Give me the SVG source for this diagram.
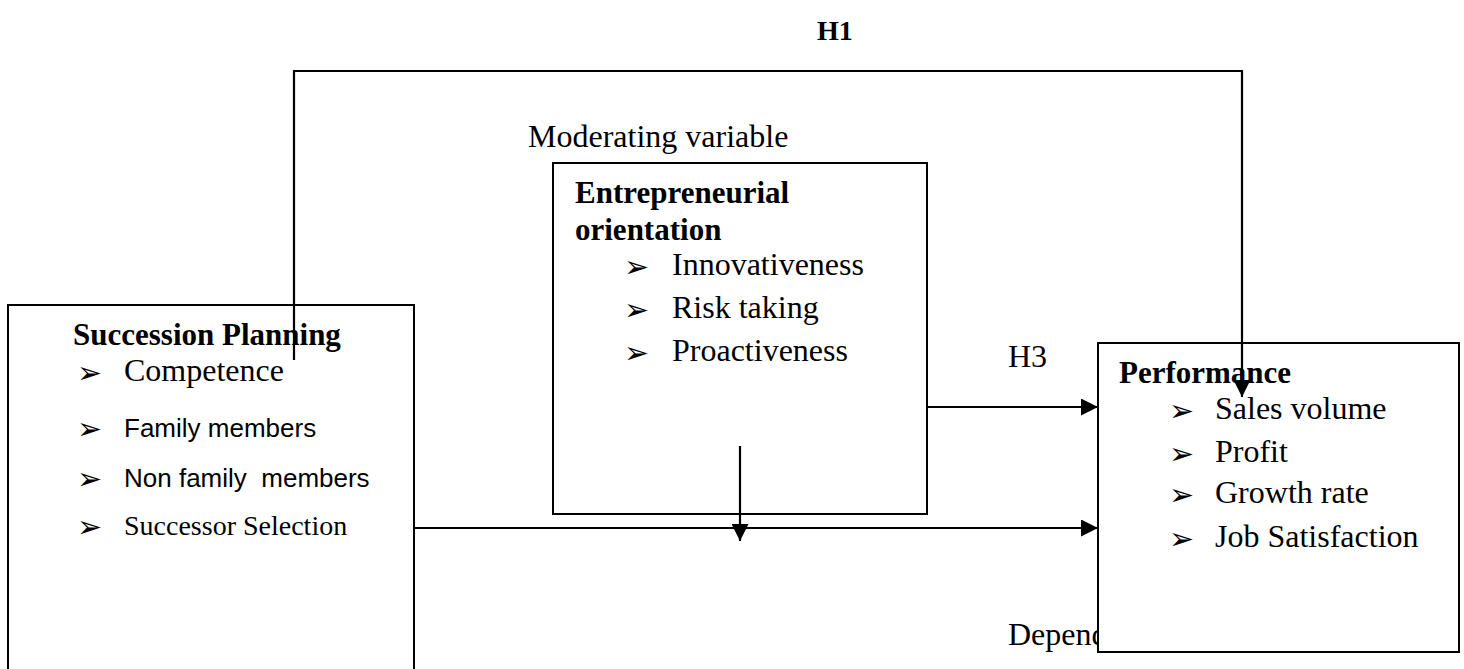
<svg xmlns="http://www.w3.org/2000/svg" width="1464" height="669" viewBox="0 0 1464 669">
  <style>
    .box { fill: #ffffff; stroke: #000000; stroke-width: 2; }
    .line { fill: none; stroke: #000000; stroke-width: 2.2; }
    .t { font-family: "Liberation Serif", "Times New Roman", serif; font-size: 32px; fill: #000000; }
    .b { font-family: "Liberation Serif", "Times New Roman", serif; font-size: 31px; font-weight: bold; fill: #000000; }
    .a { font-family: "Liberation Sans", Arial, sans-serif; font-size: 26px; fill: #000000; }
    .s { font-family: "Liberation Serif", "Times New Roman", serif; font-size: 28px; fill: #000000; }
    .bul { font-family: "DejaVu Sans", sans-serif; font-size: 30px; fill: #000000; }
  </style>
  <defs>
    <marker id="arrow" markerUnits="userSpaceOnUse" markerWidth="17" markerHeight="17" viewBox="0 0 17 17" refX="17" refY="8.5" orient="auto">
      <path d="M0,0 L17,8.5 L0,17 Z" fill="#000000"/>
    </marker>
  </defs>

  <!-- free labels -->
  <g id="labels">
    <text class="b" x="817" y="40" style="font-size:28px">H1</text>
    <text class="t" x="528" y="147">Moderating variable</text>
    <text class="t" x="1008" y="367">H3</text>
    <text class="t" x="1008" y="645">Dependent</text>
  </g>

  <!-- independent variable -->
  <g id="succession-planning">
    <rect class="box" x="8" y="305" width="406" height="380"/>
    <text class="b" x="73" y="345">Succession Planning</text>
    <text class="bul" x="77" y="383">➢</text>
    <text class="t" x="124" y="381">Competence</text>
    <text class="bul" x="77" y="439">➢</text>
    <text class="a" x="124" y="437">Family members</text>
    <text class="bul" x="77" y="489">➢</text>
    <text class="a" x="124" y="487" xml:space="preserve">Non family  members</text>
    <text class="bul" x="77" y="537">➢</text>
    <text class="s" x="124" y="535">Successor Selection</text>
  </g>

  <!-- moderating variable -->
  <g id="entrepreneurial-orientation">
    <rect class="box" x="553" y="163" width="374" height="351"/>
    <text class="b" x="575" y="203">Entrepreneurial</text>
    <text class="b" x="575" y="240">orientation</text>
    <text class="bul" x="624" y="277">➢</text>
    <text class="t" x="672" y="275">Innovativeness</text>
    <text class="bul" x="624" y="320">➢</text>
    <text class="t" x="672" y="318">Risk taking</text>
    <text class="bul" x="624" y="363">➢</text>
    <text class="t" x="672" y="361">Proactiveness</text>
  </g>

  <!-- dependent variable -->
  <g id="performance">
    <rect class="box" x="1098" y="343" width="361" height="309"/>
    <text class="b" x="1119" y="383">Performance</text>
    <text class="bul" x="1169" y="421">➢</text>
    <text class="t" x="1215" y="419">Sales volume</text>
    <text class="bul" x="1169" y="464">➢</text>
    <text class="t" x="1215" y="462">Profit</text>
    <text class="bul" x="1169" y="505">➢</text>
    <text class="t" x="1215" y="503">Growth rate</text>
    <text class="bul" x="1169" y="549">➢</text>
    <text class="t" x="1215" y="547">Job Satisfaction</text>
  </g>

  <!-- connectors -->
  <g id="connectors">
    <path class="line" d="M294,360 L294,71 L1242,71 L1242,397" marker-end="url(#arrow)"/>
    <path class="line" d="M927,407 L1098,407" marker-end="url(#arrow)"/>
    <path class="line" d="M414,528 L1098,528" marker-end="url(#arrow)"/>
    <path class="line" d="M740,446 L740,541" marker-end="url(#arrow)"/>
  </g>
</svg>
